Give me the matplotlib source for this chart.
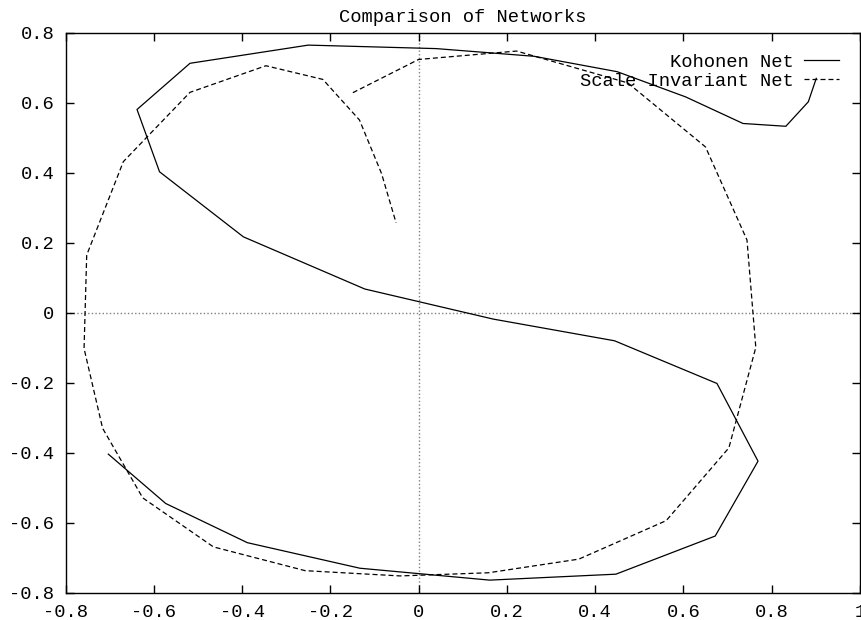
import numpy as np
import matplotlib
matplotlib.use('Agg')
import matplotlib.pyplot as plt

# Kohonen net path (solid)
kohonen_x = [-0.703, -0.573, -0.388, -0.133, 0.161, 0.447, 0.672, 0.769, 0.676,
             0.444, 0.169, -0.122, -0.397, -0.587, -0.638, -0.518, -0.250, 0.040,
             0.262, 0.450, 0.605, 0.735, 0.832, 0.883, 0.901]
kohonen_y = [-0.404, -0.545, -0.657, -0.730, -0.764, -0.747, -0.638, -0.424, -0.202,
             -0.080, -0.018, 0.068, 0.217, 0.403, 0.581, 0.713, 0.765, 0.755,
             0.733, 0.689, 0.617, 0.541, 0.533, 0.603, 0.670]

# Scale invariant net path (dashed)
scale_x = [-0.149, 0.000, 0.222, 0.474, 0.650, 0.744, 0.764, 0.703, 0.561, 0.363,
           0.158, -0.042, -0.257, -0.465, -0.625, -0.716, -0.758, -0.752, -0.669,
           -0.518, -0.346, -0.217, -0.134, -0.084, -0.051]
scale_y = [0.629, 0.724, 0.748, 0.657, 0.474, 0.208, -0.099, -0.386, -0.594, -0.704,
           -0.743, -0.752, -0.737, -0.669, -0.529, -0.330, -0.102, 0.165, 0.432,
           0.630, 0.706, 0.667, 0.551, 0.398, 0.257]

x_ticks = [-0.8, -0.6, -0.4, -0.2, 0, 0.2, 0.4, 0.6, 0.8, 1]
y_ticks = [-0.8, -0.6, -0.4, -0.2, 0, 0.2, 0.4, 0.6, 0.8]

plt.rcParams['font.family'] = ['Liberation Mono', 'DejaVu Sans Mono']
plt.rcParams['font.size'] = 13.5

fig = plt.figure(figsize=(8.61, 6.20), dpi=100)
ax = fig.add_axes([0.0761, 0.044, 0.9227, 0.903])

# zero axes
ax.axhline(0, color='#808080', lw=1, linestyle=(0, (1, 1.6)), zorder=1)
ax.axvline(0, color='#808080', lw=1, linestyle=(0, (1, 1.6)), zorder=1)

ax.plot(kohonen_x, kohonen_y, color='black', lw=0.9, label='Kohonen Net')
ax.plot(scale_x, scale_y, color='black', lw=0.9, linestyle=(0, (4, 2.4)),
        label='Scale Invariant Net')

ax.set_xlim(-0.8, 1)
ax.set_ylim(-0.8, 0.8)
ax.set_xticks(x_ticks)
ax.set_yticks(y_ticks)
ax.set_xticklabels(['%g' % v for v in x_ticks])
ax.set_yticklabels(['%g' % v for v in y_ticks])
ax.tick_params(direction='in', length=6, width=1, top=True, right=True, pad=8)
for s in ax.spines.values():
    s.set_linewidth(1)

ax.set_title('Comparison of Networks', fontsize=13.5, pad=8)

leg = ax.legend(loc='upper right', frameon=False, markerfirst=False,
                handlelength=1.9, handletextpad=0.55, labelspacing=0.12,
                borderaxespad=0.6, borderpad=0.5, fontsize=13.5)

plt.savefig('out.png', dpi=100)
